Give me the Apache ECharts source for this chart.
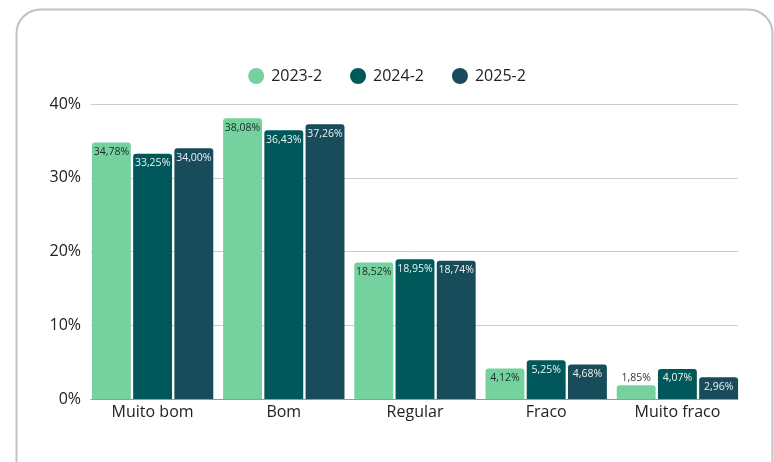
<!DOCTYPE html>
<html><head><meta charset="utf-8">
<script src="https://cdn.jsdelivr.net/npm/echarts@6/dist/echarts.min.js"></script>
<style>html,body{margin:0;padding:0;background:#fff}#c{width:774px;height:462px}</style>
</head><body><div id="c"></div>
<script>
const categories = ['Muito bom', 'Bom', 'Regular', 'Fraco', 'Muito fraco'];
const seriesNames = ['2023-2', '2024-2', '2025-2'];
const values2023 = [34.78, 38.08, 18.52, 4.12, 1.85];
const values2024 = [33.25, 36.43, 18.95, 5.25, 4.07];
const values2025 = [34.00, 37.26, 18.74, 4.68, 2.96];
const yTicks = [0, 10, 20, 30, 40];

const colors = ['#75D19D', '#00585A', '#194C5A'];
const labelColors = ['#1f2a2a', '#eef2f2', '#eef2f2'];
const font = '"Open Sans", "Noto Sans", sans-serif';
const yMin = yTicks[0], yMax = yTicks[yTicks.length - 1];

function mk(vals, i) {
  return {
    name: seriesNames[i], type: 'bar', xAxisIndex: 1, yAxisIndex: 1,
    data: vals.map(v => {
      const d = { value: v };
      if (v < 2.5) d.label = { position: 'top', color: '#333', distance: 2 };
      return d;
    }),
    barGap: '6%', barCategoryGap: '7.5%',
    itemStyle: { color: colors[i], borderRadius: [3, 3, 0, 0] },
    label: {
      show: true, position: 'insideTop', distance: 4,
      color: labelColors[i], fontSize: 10.5, fontFamily: font,
      formatter: p => p.value.toFixed(2).replace('.', ',') + '%'
    }
  };
}

const chart = echarts.init(document.getElementById('c'), null, { renderer: 'canvas' });
chart.setOption({
  animation: false,
  color: colors,
  graphic: [{
    type: 'rect', z: -10, silent: true,
    shape: { x: 16.5, y: 9.5, width: 756, height: 480, r: 24 },
    style: { fill: '#fff', stroke: '#c2c2c2', lineWidth: 2 }
  }],
  legend: {
    top: 63, left: 'center', icon: 'circle', itemWidth: 16, itemHeight: 16, itemGap: 28,
    textStyle: { fontSize: 16, color: '#222', fontFamily: font, padding: [0, 0, 0, 2] },
    data: seriesNames
  },
  grid: [
    { left: 91, right: 36, top: 104, bottom: 63, containLabel: false },
    { left: 87, right: 31, top: 104, bottom: 63, containLabel: false }
  ],
  xAxis: [
    { type: 'value', gridIndex: 0, min: 0, max: 1, show: true,
      axisLine: { show: true, onZero: false, lineStyle: { color: '#999' } },
      axisTick: { show: false }, axisLabel: { show: false }, splitLine: { show: false } },
    { type: 'category', gridIndex: 1, data: categories,
      axisLine: { show: false }, axisTick: { show: false },
      axisLabel: { color: '#222', fontSize: 16, fontFamily: font, margin: 5 } }
  ],
  yAxis: [
    { type: 'value', gridIndex: 0, min: yMin, max: yMax, interval: 10,
      axisLine: { show: false }, axisTick: { show: false },
      splitLine: { lineStyle: { color: '#cccccc' } },
      axisLabel: { color: '#222', fontSize: 16, fontFamily: font, margin: 10, formatter: v => v + '%' } },
    { type: 'value', gridIndex: 1, min: yMin, max: yMax, interval: 10, show: false,
      splitLine: { show: false } }
  ],
  series: [mk(values2023, 0), mk(values2024, 1), mk(values2025, 2)]
});
</script></body></html>
